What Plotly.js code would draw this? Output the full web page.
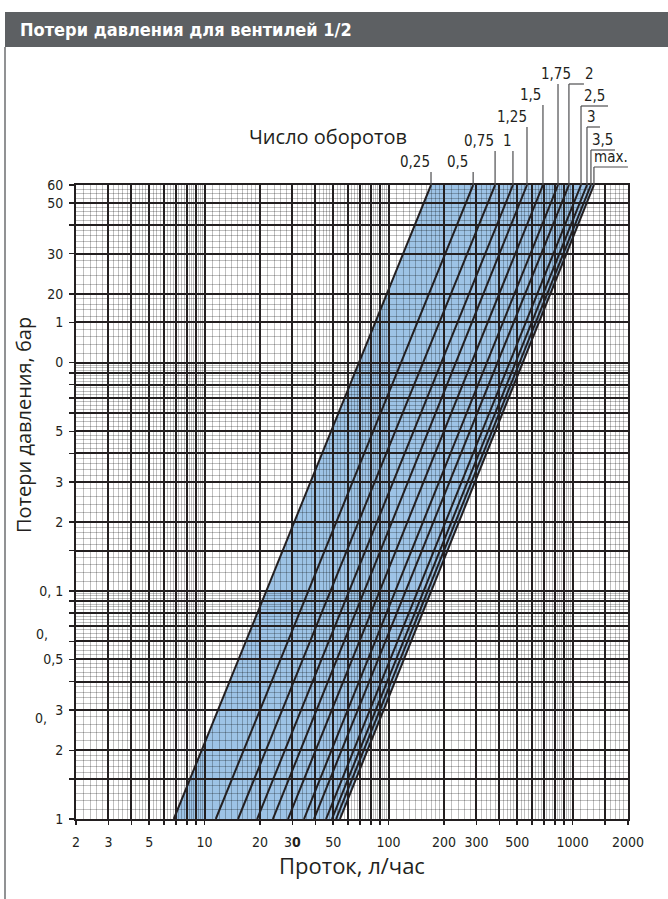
<!DOCTYPE html>
<html><head><meta charset="utf-8">
<script src="https://cdn.plot.ly/plotly-3.0.1.min.js"></script>
<style>html,body{margin:0;padding:0;background:#fff}#chart{width:668px;height:899px}</style>
</head><body><div id="chart"></div>
<script>
// ---------- data ----------
const turnLabels = ['0,25','0,5','0,75','1','1,25','1,5','1,75','2','2,5','3','3,5','max.'];
const pressureRange = [0.1, 60];
const flowAtMinPressure = [6.8, 11.5, 15.2, 19.3, 23.5, 28.4, 34.7, 39.3, 45.7, 49.2, 51.8, 54.4];
const flowAtMaxPressure = [170, 288, 379, 474, 565, 690, 833, 955, 1111, 1197, 1258, 1306];

const xTickVals = [2,3,4,5,6,7,8,9,10,20,30,40,50,60,70,80,90,100,200,300,400,500,600,700,800,900,1000,1500,2000];
const xTickText = ['2','3','','5','','','','','10','20','3<b>0</b>','','50','','','','','100','200','300','','500','','','','','1000','','2000'];
const yTickVals = [0.1,0.15,0.2,0.3,0.4,0.5,0.6,0.7,0.8,0.9,1,1.5,2,3,4,5,6,7,8,9,10,15,20,30,40,50,60];
const yTickText = ['1','','2','3','','0,5','','','','','0, 1','','2','3','','5','','','','','0','1','20','30','','50','60'];

// ---------- label leader geometry (pixels) ----------
const leaderRise = [13,13,34,34,58,80,101,101,79,58,35,18];
const underline = [[-30,0],[-30,0],[-29,0],[-11,0],[-30,0],[-24,0],[-29,0],[0,15],[0,27],[0,13],[0,24],[0,34]];
const labelShift = [-16,-16,-16,-5,-15,-12,-2,21,13,5,12,17];

const DARK = '#231f20';
const NARROW = '"Liberation Sans Narrow", "DejaVu Sans Condensed", "Open Sans", sans-serif';
const LIGHT = '"Open Sans", "Noto Sans", sans-serif';

function minorGrid(lo, hi){
  const out=[];
  for(let d=Math.floor(Math.log10(lo)); d<=Math.ceil(Math.log10(hi)); d++){
    const b=Math.pow(10,d);
    [[1,2,0.1],[2,5,0.2],[5,10,0.25]].forEach(([a,c,s])=>{
      for(let m=a+s; m<c-1e-9; m+=s){
        const v=+(m*b).toPrecision(6);
        if(v>lo && v<hi) out.push(v);
      }
    });
  }
  return out;
}

const traces = turnLabels.map((t,i)=>({
  type:'scatter', mode:'lines', name:t, showlegend:false, hoverinfo:'skip',
  x:[flowAtMinPressure[i], flowAtMaxPressure[i]], y:pressureRange,
  line:{color:DARK, width:2}
}));

const n = turnLabels.length-1;
const PH = 634; // plot height px
const PW = 552; // plot width px
const shapes = [
  {type:'path', xref:'x', yref:'y', layer:'below', fillcolor:'#9dc3e6', line:{width:0},
   path:`M${flowAtMinPressure[0]},${pressureRange[0]} L${flowAtMaxPressure[0]},${pressureRange[1]} L${flowAtMaxPressure[n]},${pressureRange[1]} L${flowAtMinPressure[n]},${pressureRange[0]} Z`},
  // title bar
  {type:'rect', xref:'paper', yref:'paper', layer:'above', x0:(5-76)/PW, x1:(668-76)/PW, y0:(819-47)/PH, y1:(819-12)/PH, fillcolor:'#5d6063', line:{width:0}},
  // left frame line
  {type:'line', xref:'paper', yref:'paper', x0:(5-76)/PW, x1:(5-76)/PW, y0:(819-47)/PH, y1:(819-899)/PH, line:{color:'#6d6e71', width:1.5}}
];
const annotations = [
  {xref:'paper', yref:'paper', x:(328-76)/PW, y:(819-136)/PH, xanchor:'center', yanchor:'middle', text:'Число оборотов', showarrow:false,
   font:{family:LIGHT, size:20, color:DARK}},
  {xref:'paper', yref:'paper', x:(23-76)/PW, y:(819-425)/PH, xanchor:'center', yanchor:'middle', text:'Потери давления, бар', textangle:-90, showarrow:false,
   font:{family:LIGHT, size:20, color:DARK}},
  {xref:'paper', yref:'paper', x:(50-76)/PW, y:(819-634)/PH, xanchor:'right', yanchor:'middle', text:'0,', showarrow:false, font:{family:NARROW, size:14, color:DARK}},
  {xref:'paper', yref:'paper', x:(49-76)/PW, y:(819-718)/PH, xanchor:'right', yanchor:'middle', text:'0,', showarrow:false, font:{family:NARROW, size:14, color:DARK}}
];
turnLabels.forEach((t,i)=>{
  const xv = flowAtMaxPressure[i];
  shapes.push({type:'line', xref:'x', yref:'paper', x0:xv, x1:xv, y0:1, y1:1+leaderRise[i]/PH, line:{color:'#4d4d4f', width:1.2}});
  shapes.push({type:'line', xref:'x', xsizemode:'pixel', xanchor:xv, x0:underline[i][0], x1:underline[i][1],
               yref:'paper', y0:1+leaderRise[i]/PH, y1:1+leaderRise[i]/PH, line:{color:'#4d4d4f', width:1.2}});
  annotations.push({xref:'x', yref:'paper', x:Math.log10(xv), y:1+leaderRise[i]/PH, xshift:labelShift[i], yshift:-1,
    yanchor:'bottom', xanchor:'center', text:t, showarrow:false, font:{family:NARROW, size:15, color:DARK}});
});

const axisCommon = {
  type:'log', tickmode:'array', ticks:'outside', tickcolor:DARK, tickwidth:1.5,
  showgrid:true, gridcolor:DARK, gridwidth:2, showline:true, linecolor:DARK, linewidth:2, mirror:true,
  zeroline:false, automargin:false, fixedrange:true, tickangle:0,
  tickfont:{family:NARROW, size:14, color:DARK}
};
const layout = {
  width:668, height:899, margin:{l:76, r:40, t:185, b:80},
  paper_bgcolor:'#fff', plot_bgcolor:'#fff', showlegend:false,
  title:{text:'Потери давления для вентилей 1/2', font:{family:NARROW, size:18, color:'#fff', weight:'bold'},
         xref:'container', x:20/668, xanchor:'left', yref:'container', y:1-29.5/899, yanchor:'middle'},
  xaxis:Object.assign({}, axisCommon, {
    range:[Math.log10(2), Math.log10(2000)], tickvals:xTickVals, ticktext:xTickText, ticklen:4, ticklabelstandoff:5,
    minor:{tickvals:minorGrid(2,2000), showgrid:true, gridcolor:'rgba(0,0,0,0.25)', gridwidth:1, ticks:''},
    title:{text:'Проток, л/час', font:{family:LIGHT, size:22, color:DARK}, standoff:3}
  }),
  yaxis:Object.assign({}, axisCommon, {
    range:[-1, Math.log10(60)], tickvals:yTickVals, ticktext:yTickText, ticklen:5, ticklabelstandoff:3,
    minor:{tickvals:minorGrid(0.1,60), showgrid:true, gridcolor:'rgba(0,0,0,0.25)', gridwidth:1, ticks:''}
  }),
  shapes:shapes, annotations:annotations
};
Plotly.newPlot('chart', traces, layout, {displayModeBar:false, staticPlot:true});
</script></body></html>
